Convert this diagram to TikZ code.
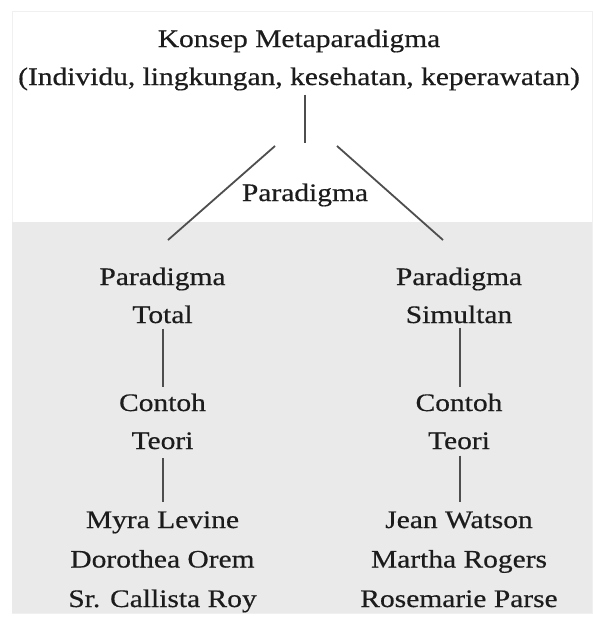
\documentclass[tikz,border=0pt]{standalone}
\usepackage{fontspec}
\setmainfont{Liberation Serif}[FakeStretch=1.17,FakeBold=0.5]
\definecolor{bg}{HTML}{EAEAEA}
\definecolor{frame}{HTML}{F0F0F0}
\definecolor{ln}{HTML}{4E4E4E}
\definecolor{tx}{HTML}{1C1C1C}
\begin{document}
\begin{tikzpicture}[x=1pt,y=-1pt,
  txt/.style={font=\fontsize{25.2}{38}\selectfont, text=tx, align=center, inner sep=0pt},
  names/.style={txt, font=\fontsize{25.2}{39.5}\selectfont},
  conn/.style={draw=ln, line width=1.8pt}]
\useasboundingbox (0,0) rectangle (592,624);
\fill[white] (0,0) rectangle (592,624);
\draw[frame, line width=1pt] (12,11) rectangle (592,613);
\fill[bg] (12,222) rectangle (592,613);
% nodes
\node[txt] (meta) at (299,58.4) {Konsep Metaparadigma\strut\\(Individu, lingkungan, kesehatan, keperawatan)\strut};
\node[txt] (par) at (305,193.4) {Paradigma\strut};
\node[txt] (pt) at (162.5,296.4) {Paradigma\strut\\Total\strut};
\node[txt] (ps) at (459,296.4) {Paradigma\strut\\Simultan\strut};
\node[txt] (ct) at (162.5,422.4) {Contoh\strut\\Teori\strut};
\node[txt] (cs) at (459,422.4) {Contoh\strut\\Teori\strut};
\node[names] (nl) at (162.5,559.6) {Myra Levine\strut\\Dorothea Orem\strut\\Sr. Callista Roy\strut};
\node[names] (nr) at (459,559.6) {Jean Watson\strut\\Martha Rogers\strut\\Rosemarie Parse\strut};
% free ends
\coordinate (j) at (305,143);
\coordinate (dls) at (275,146);
\coordinate (dle) at (168,240);
\coordinate (drs) at (337,146);
\coordinate (dre) at (443,240);
% connectors
\draw[conn] (meta.south -| j) ++(0,-2) -- (j);
\draw[conn] (dls) -- (dle);
\draw[conn] (drs) -- (dre);
\draw[conn, shorten <=-6pt, shorten >=-2.6pt] ([xshift=0.5pt]pt.south) -- ([xshift=0.5pt]ct.north);
\draw[conn, shorten <=-7pt, shorten >=-2.6pt] ([xshift=1pt]ps.south) -- ([xshift=1pt]cs.north);
\draw[conn, shorten <=-2.4pt, shorten >=-1.6pt] ([xshift=0.5pt]ct.south) -- ([xshift=0.5pt]nl.north);
\draw[conn, shorten <=-5pt, shorten >=-1.6pt] ([xshift=1pt]cs.south) -- ([xshift=1pt]nr.north);
\end{tikzpicture}
\end{document}
